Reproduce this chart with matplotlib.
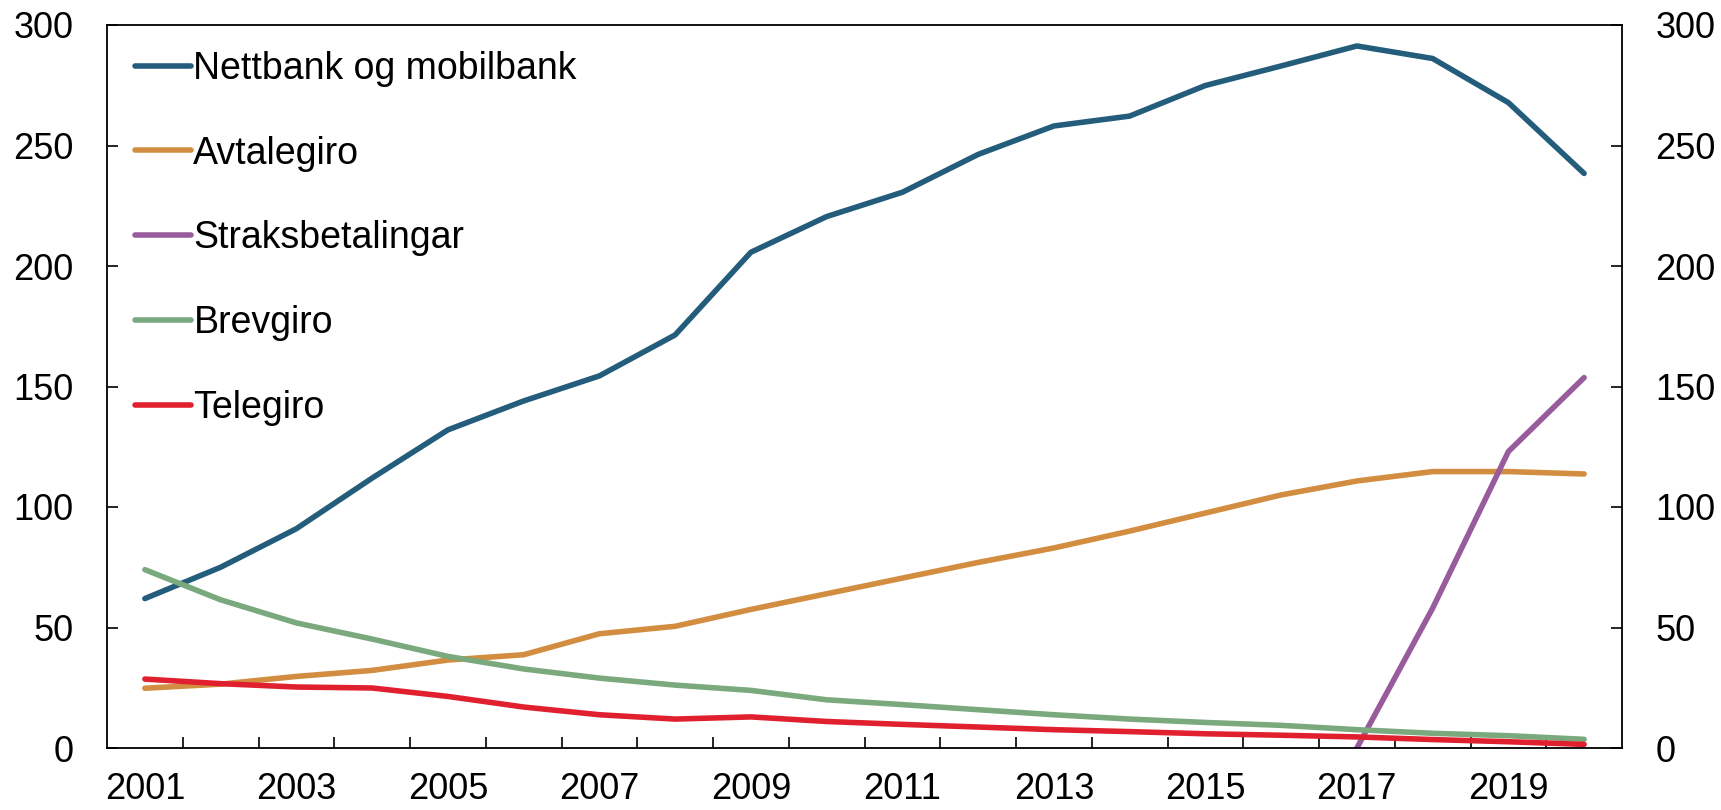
import matplotlib
matplotlib.use("Agg")
import matplotlib.pyplot as plt
from matplotlib.ticker import FixedLocator, NullFormatter

plt.rcParams['font.family'] = ['Liberation Sans', 'DejaVu Sans']

# Data
years = list(range(2001, 2021))
nettbank = [62, 75, 91, 112, 132, 144, 154.4, 171.4, 205.7, 220.5,
            230.6, 246.3, 258.1, 262.2, 274.9, 283, 291.3, 286.1, 267.8, 238.4]
avtalegiro = [24.8, 26.5, 29.7, 32.2, 36.5, 38.7, 47.4, 50.5, 57.5, 64,
              70.5, 77, 83, 90, 97.5, 105, 110.8, 114.7, 114.7, 113.7]
straks_years = [2017, 2018, 2019, 2020]
straks = [0, 58, 123, 153.7]
brevgiro = [74, 61.5, 51.9, 45.2, 38, 32.8, 29, 26.1, 23.9, 20,
            18, 15.9, 13.8, 12, 10.6, 9.4, 7.6, 6.1, 5.1, 3.6]
telegiro = [28.6, 26.7, 25.3, 24.9, 21.4, 17, 13.8, 12, 12.9, 11,
            9.8, 8.7, 7.6, 6.8, 5.9, 5.3, 4.6, 3.5, 2.6, 1.5]

label_years = list(range(2001, 2021, 2))
y_ticks = [0, 50, 100, 150, 200, 250, 300]

fig = plt.figure(figsize=(17.21, 8.10), dpi=100)
ax = fig.add_axes([107 / 1721, 1 - 748 / 810, 1515 / 1721, 723 / 810])

lw = 4
ax.plot(years, nettbank, color="#245d7c", lw=lw, solid_capstyle='round', label="Nettbank og mobilbank")
ax.plot(years, avtalegiro, color="#d38d40", lw=lw, solid_capstyle='round', label="Avtalegiro")
ax.plot(straks_years, straks, color="#985b9b", lw=lw, solid_capstyle='round', label="Straksbetalingar")
ax.plot(years, brevgiro, color="#79a97c", lw=lw, solid_capstyle='round', label="Brevgiro")
ax.plot(years, telegiro, color="#e0202e", lw=lw, solid_capstyle='round', label="Telegiro")

ax.set_xlim(2000.5, 2020.5)
ax.set_ylim(0, 300)

# year labels under the points, tick marks between the years
ax.set_xticks(label_years)
ax.xaxis.set_minor_locator(FixedLocator([y + 0.5 for y in range(2001, 2020)]))
ax.xaxis.set_minor_formatter(NullFormatter())
ax.tick_params(axis='x', which='major', length=0, pad=17, labelsize=26)
ax.tick_params(axis='x', which='minor', direction='in', length=8, width=1.2)

ax.set_yticks(y_ticks)
ax.tick_params(axis='y', direction='in', length=8, width=1.2, pad=24,
               labelsize=26, right=True, labelright=True)

ax.spines['top'].set_visible(False)
for s in ['left', 'right', 'bottom']:
    ax.spines[s].set_linewidth(1.3)
ax.plot([0, 1], [1, 1], transform=ax.transAxes, color='black', lw=1.3, clip_on=False)

ax.legend(loc='upper left', bbox_to_anchor=(0.0085, 0.985), frameon=False, fontsize=27,
          handlelength=1.5, handletextpad=0.06, labelspacing=1.3, borderaxespad=0)

fig.savefig("out.png", dpi=100)
